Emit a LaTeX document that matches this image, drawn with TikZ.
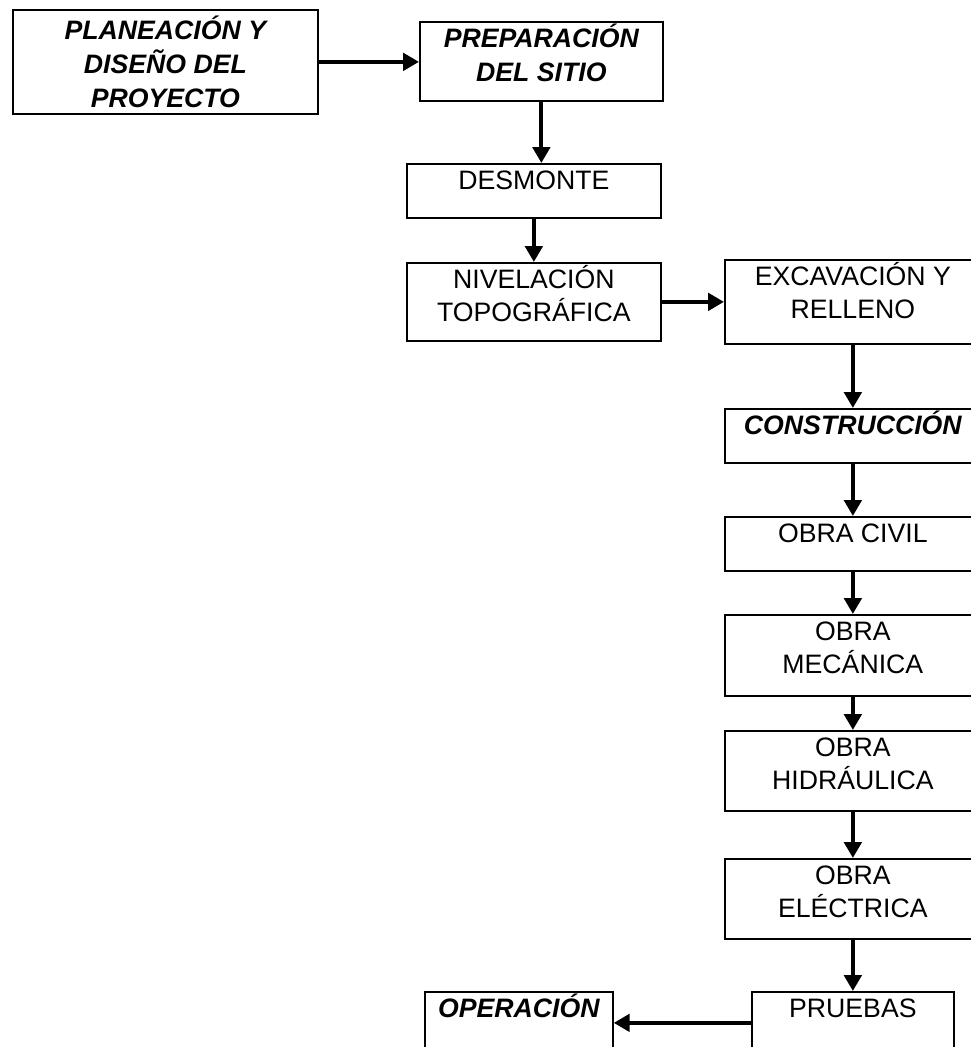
\documentclass[tikz,border=0pt]{standalone}
\usepackage{fontspec}
\setmainfont{Liberation Sans}
\usetikzlibrary{arrows.meta}

\newcommand{\cajatexto}[3]{\parbox[c][#2][t]{#1}{\centering\rule{0pt}{19pt}#3}}

\begin{document}
\begin{tikzpicture}[
    x=0.75pt, y=-0.75pt,
    caja/.style={draw, line width=1.3pt, inner sep=0pt, anchor=north west,
        font=\fontsize{20}{25}\selectfont},
    fase/.style={caja, font=\fontsize{20}{25.5}\selectfont\bfseries\itshape},
    flecha/.style={line width=3pt, -{Triangle[length=12pt,width=13pt]}}
    ]

    \path[use as bounding box] (0,0) rectangle (971,1047);
    \clip (0,0) rectangle (971,1047);

    % fases y actividades
    \node[fase] (plan) at (12,9) {\parbox[c][78pt][c]{228.75pt}{\centering PLANEACIÓN Y\\ DISEÑO DEL\\ PROYECTO}};
    \node[fase] (prep) at (419,21) {\cajatexto{182.25pt}{59.25pt}{PREPARACIÓN\\ DEL SITIO}};
    \node[caja] (desm) at (406,163) {\cajatexto{190.5pt}{40.5pt}{DESMONTE}};
    \node[caja] (nivel) at (406,262) {\cajatexto{190.5pt}{58.5pt}{NIVELACIÓN\\ TOPOGRÁFICA}};
    \node[caja] (excav) at (724,259) {\cajatexto{192pt}{63pt}{EXCAVACIÓN Y\\ RELLENO}};
    \node[fase] (constr) at (724,408) {\cajatexto{192pt}{40.5pt}{CONSTRUCCIÓN}};
    \node[caja] (civil) at (724,516) {\cajatexto{192pt}{40.5pt}{OBRA CIVIL}};
    \node[caja] (mec) at (724,614) {\cajatexto{192pt}{60.75pt}{OBRA\\ MECÁNICA}};
    \node[caja] (hidr) at (724,730) {\cajatexto{192pt}{60pt}{OBRA\\ HIDRÁULICA}};
    \node[caja] (elec) at (724,858) {\cajatexto{192pt}{60pt}{OBRA\\ ELÉCTRICA}};
    \node[caja] (prueb) at (751,991) {\cajatexto{151.5pt}{46.5pt}{PRUEBAS}};
    \node[fase] (oper) at (424,991) {\cajatexto{141pt}{46.5pt}{OPERACIÓN}};

    % flechas
    \draw[flecha] (plan.east) -- (plan.east -| prep.west);
    \draw[flecha] (prep.south) -- (prep.south |- desm.north);
    \draw[flecha] (desm.south) -- (desm.south |- nivel.north);
    \draw[flecha] (nivel.east) -- (nivel.east -| excav.west);
    \draw[flecha] (excav.south) -- (constr.north);
    \draw[flecha] (constr.south) -- (civil.north);
    \draw[flecha] (civil.south) -- (mec.north);
    \draw[flecha] (mec.south) -- (hidr.north);
    \draw[flecha] (hidr.south) -- (elec.north);
    \draw[flecha] (elec.south) -- (prueb.north);
    \draw[flecha] (prueb.west) -- (prueb.west -| oper.east);

\end{tikzpicture}
\end{document}
